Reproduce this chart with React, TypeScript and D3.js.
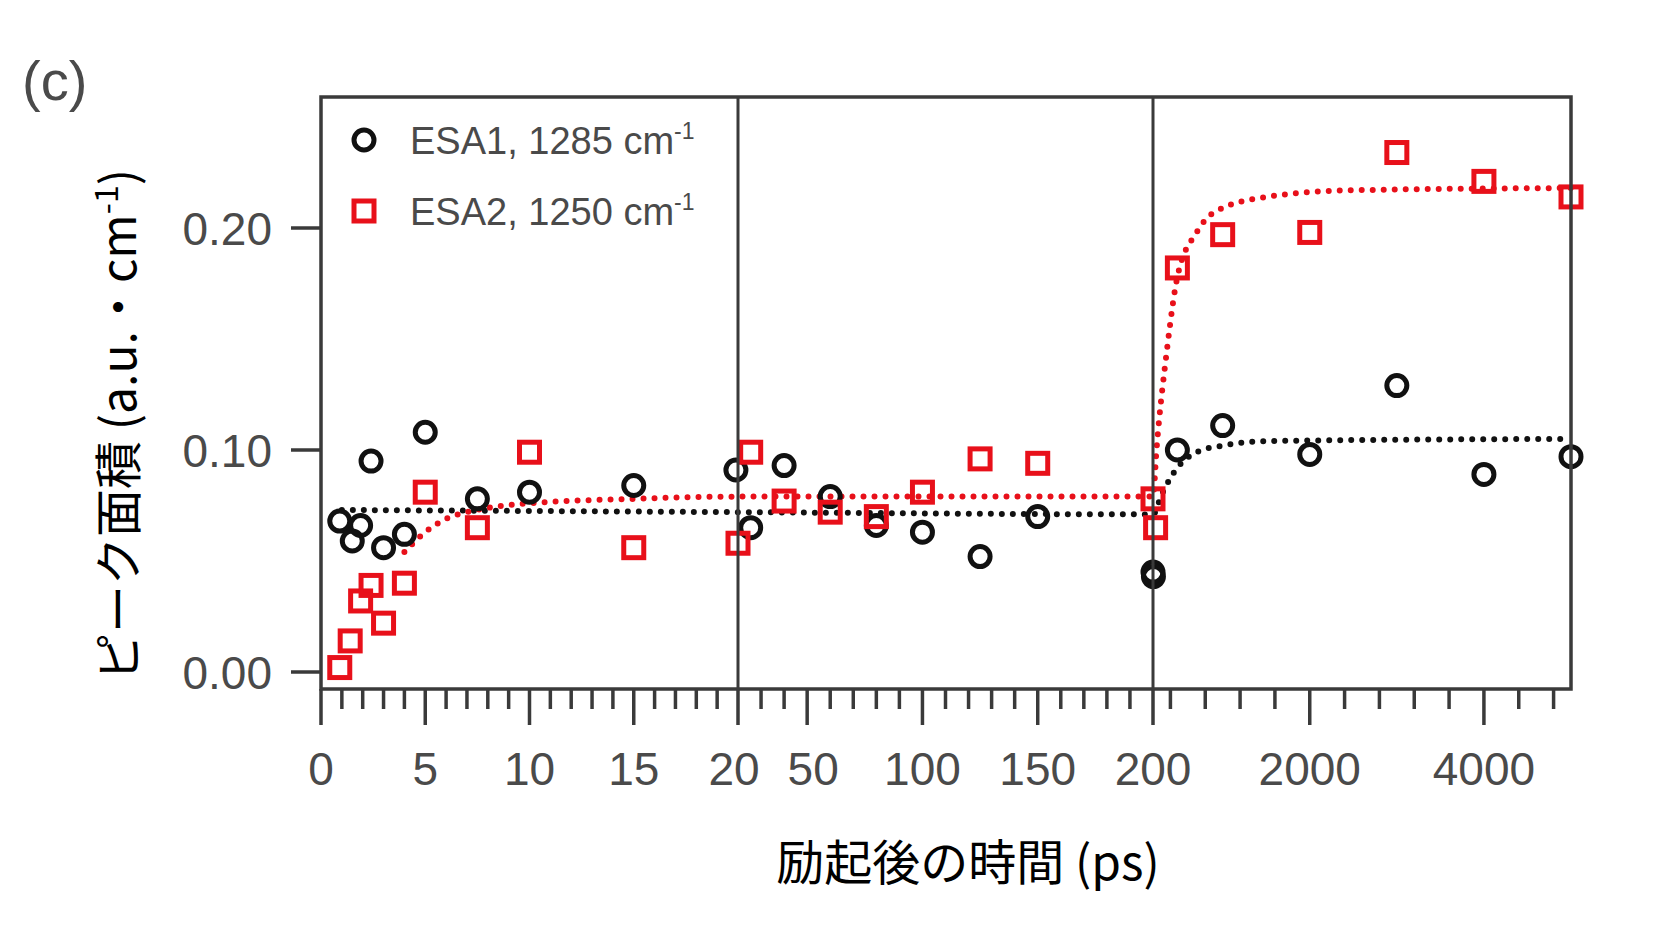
import React from "react";
import * as d3 from "d3";

const esa1X = [0.9, 1.5, 1.9, 2.4, 3.0, 4.0, 5.0, 7.5, 10, 15, 19.9, 25.5, 40, 60, 80, 100, 125, 150, 200, 205, 480, 1000, 2000, 3000, 4000, 5000];
const esa1Y = [0.068, 0.059, 0.066, 0.095, 0.056, 0.062, 0.108, 0.078, 0.081, 0.084, 0.091, 0.065, 0.093, 0.079, 0.066, 0.063, 0.052, 0.070, 0.045, 0.043, 0.100, 0.111, 0.098, 0.129, 0.089, 0.097];
const esa2X = [0.9, 1.4, 1.9, 2.4, 3.0, 4.0, 5.0, 7.5, 10, 15, 20, 25.5, 40, 60, 80, 100, 125, 150, 200, 230, 480, 1000, 2000, 3000, 4000, 5000];
const esa2Y = [0.002, 0.014, 0.032, 0.039, 0.022, 0.040, 0.081, 0.065, 0.099, 0.056, 0.058, 0.099, 0.077, 0.072, 0.070, 0.081, 0.096, 0.094, 0.078, 0.065, 0.182, 0.197, 0.198, 0.234, 0.221, 0.214];
const fit1X = [1, 20, 200, 300, 480, 700, 1000, 1500, 5000];
const fit1Y = [0.073, 0.072, 0.071, 0.080, 0.092, 0.099, 0.102, 0.104, 0.105];
const fit2X = [4, 5, 6, 7.5, 10, 15, 20, 200, 240, 360, 480, 700, 900, 1500, 2500, 5000];
const fit2Y = [0.054, 0.063, 0.069, 0.073, 0.076, 0.078, 0.079, 0.079, 0.10, 0.145, 0.178, 0.198, 0.207, 0.214, 0.217, 0.218];
const majorTicks = [0, 5, 10, 15, 20, 50, 100, 150, 200, 2000, 4000];
const tickLabels = ["0", "5", "10", "15", "20", "50", "100", "150", "200", "2000", "4000"];
const yTicks = [0, 0.1, 0.2];
const yTickLabels = ["0.00", "0.10", "0.20"];

const L = 321, R = 1571, T = 97, B = 689;
const x = d3.scaleLinear().domain([0, 20, 200, 5000]).range([L, 738, 1153, R]);
const y = d3.scaleLinear().domain([0, 0.1]).range([672, 450]);

const minor: number[] = [];
for (let v = 1; v < 20; v++) if (v % 5) minor.push(v);
for (let v = 30; v < 200; v += 10) if (v % 50) minor.push(v);
for (let v = 400; v <= 4800; v += 400) if (v % 2000) minor.push(v);

const line = d3.line<[number, number]>().x(d => x(d[0])).y(d => y(d[1])).curve(d3.curveMonotoneX);
const grey = "#3a3a3a";
const lab = "#4a4a4a";

export default function App() {
  return (
    <svg width={1660} height={949} style={{ display: "block", position: "absolute", left: 0, top: 0, background: "#fff" }}>
      <text x={22} y={100} fontFamily="Liberation Sans, Arial" fontSize={56} fill={lab}>(c)</text>
      <path d={line(fit1X.map((v, i) => [v, fit1Y[i]]) as any) || ""} fill="none" stroke="#111" strokeWidth={6} strokeDasharray="0 11" strokeLinecap="round" />
      <path d={line(fit2X.map((v, i) => [v, fit2Y[i]]) as any) || ""} fill="none" stroke="#e8101a" strokeWidth={6} strokeDasharray="0 11" strokeLinecap="round" />
      {esa1X.map((v, i) => (
        <circle key={"c" + i} cx={x(v)} cy={y(esa1Y[i])} r={10} fill="none" stroke="#111" strokeWidth={5} />
      ))}
      {esa2X.map((v, i) => (
        <rect key={"s" + i} x={x(v) - 10} y={y(esa2Y[i]) - 10} width={20} height={20} fill="none" stroke="#e8101a" strokeWidth={5} />
      ))}
      <rect x={L} y={T} width={R - L} height={B - T} fill="none" stroke={grey} strokeWidth={3.5} />
      {[20, 200].map(v => <line key={v} x1={x(v)} x2={x(v)} y1={T} y2={B} stroke={grey} strokeWidth={3} />)}
      {minor.map(v => <line key={"m" + v} x1={x(v)} x2={x(v)} y1={B} y2={B + 20} stroke={grey} strokeWidth={3.5} />)}
      {majorTicks.map((v, i) => (
        <g key={"M" + v}>
          <line x1={x(v)} x2={x(v)} y1={B} y2={B + 36} stroke={grey} strokeWidth={3.5} />
          <text x={x(v) + (v === 20 ? -4 : v === 50 ? 6 : 0)} y={785} textAnchor="middle" fontFamily="Liberation Sans, Arial" fontSize={46} fill={lab}>{tickLabels[i]}</text>
        </g>
      ))}
      {yTicks.map((v, i) => (
        <g key={"y" + v}>
          <line x1={L - 30} x2={L} y1={y(v)} y2={y(v)} stroke={grey} strokeWidth={3.5} />
          <text x={272} y={y(v) + 17} textAnchor="end" fontFamily="Liberation Sans, Arial" fontSize={46} fill={lab}>{yTickLabels[i]}</text>
        </g>
      ))}
      <circle cx={364} cy={140} r={10} fill="none" stroke="#111" strokeWidth={5} />
      <text x={410} y={154} fontFamily="Liberation Sans, Arial" fontSize={38} fill={lab}>ESA1, 1285 cm<tspan dy={-15} fontSize={23}>-1</tspan></text>
      <rect x={354} y={201} width={20} height={20} fill="none" stroke="#e8101a" strokeWidth={5} />
      <text x={410} y={225} fontFamily="Liberation Sans, Arial" fontSize={38} fill={lab}>ESA2, 1250 cm<tspan dy={-15} fontSize={23}>-1</tspan></text>
      <text transform="translate(136,425) rotate(-90)" textAnchor="middle" fontFamily="Noto Sans CJK JP" fontSize={48} fill="#000">ピーク面積 (a.u.・cm<tspan dy={-18} fontSize={32}>-1</tspan><tspan dy={18}>)</tspan></text>
      <text x={968} y={880} textAnchor="middle" fontFamily="Noto Sans CJK JP" fontSize={48} fill="#000">励起後の時間 (ps)</text>
    </svg>
  );
}
